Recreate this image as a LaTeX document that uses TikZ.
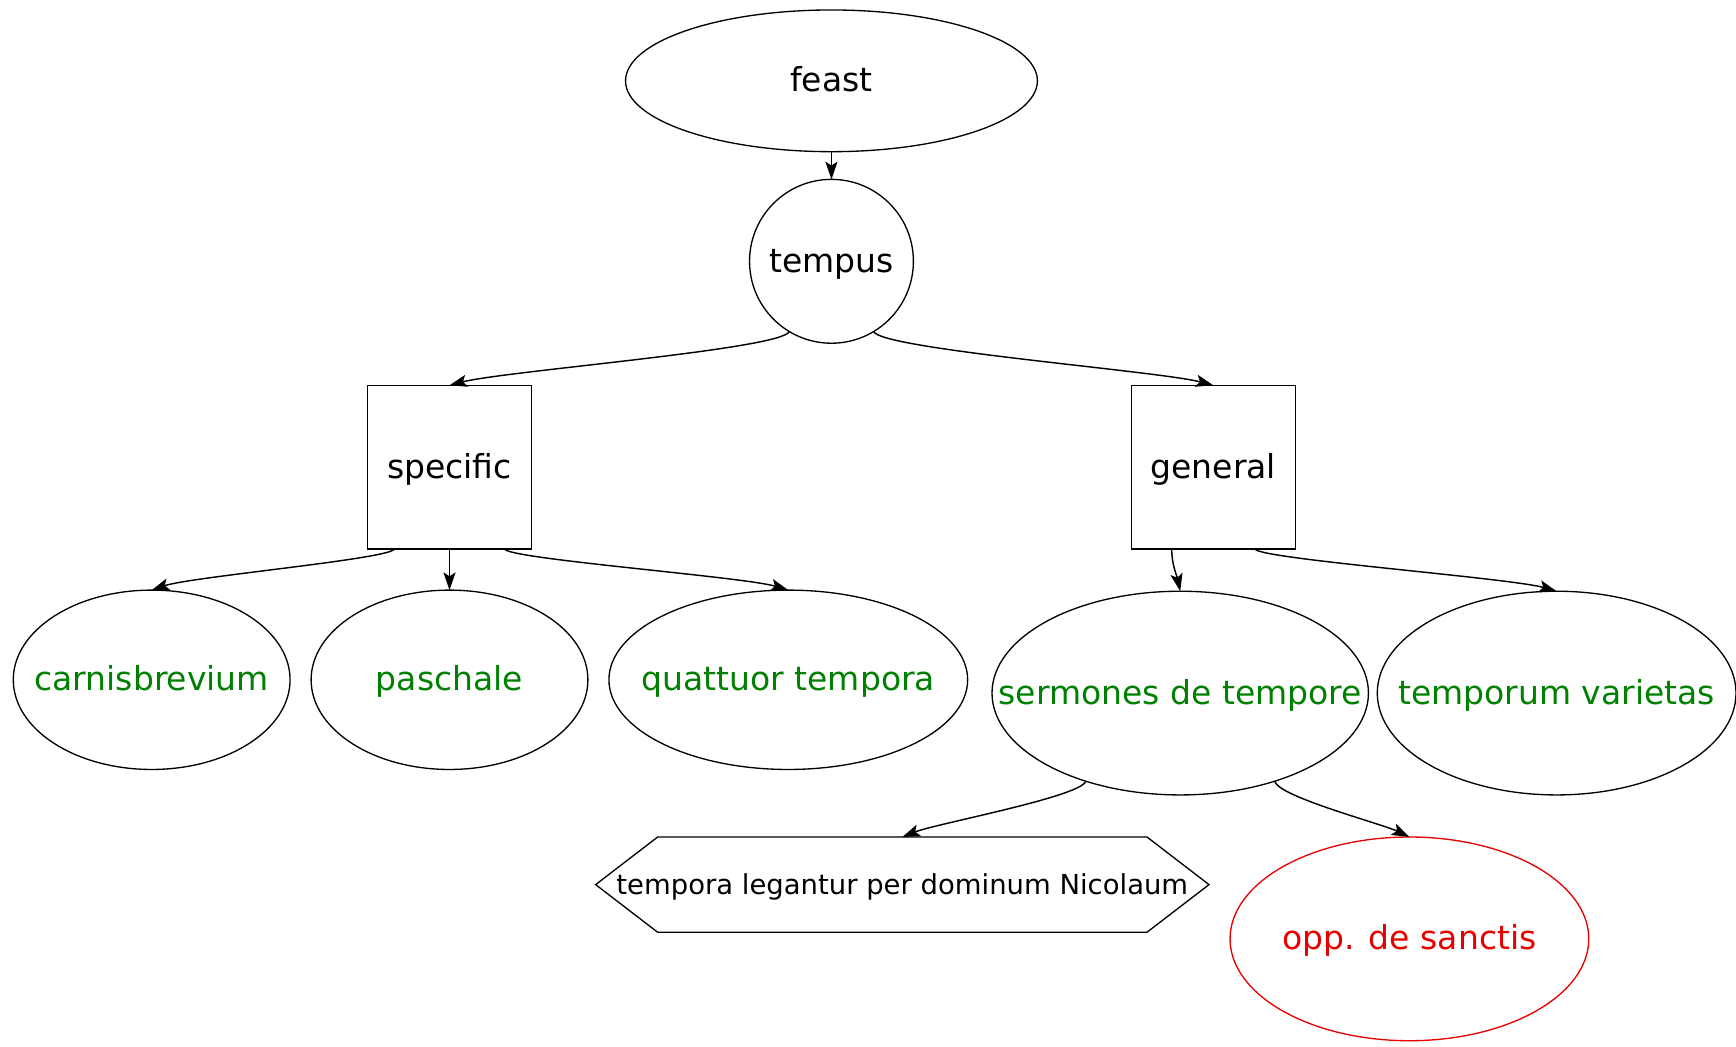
\documentclass[tikz,border=0pt]{standalone}
\usepackage{fontspec}
\setmainfont{DejaVu Sans}
\usetikzlibrary{shapes.geometric,arrows.meta,calc}
\definecolor{gvgreen}{RGB}{0,128,0}
\definecolor{gvred}{RGB}{230,0,0}
\newcommand{\zb}[1]{\makebox[0pt][c]{#1}}
\begin{document}
\begin{tikzpicture}[x=1pt,y=1pt,
  every node/.style={inner sep=0pt, outer sep=0pt, line width=1.2pt},
  big/.style={font=\fontsize{29.8}{36}\selectfont, text height=26pt, text depth=6pt},
  small/.style={font=\fontsize{24.8}{30}\selectfont, text height=22pt, text depth=5pt},
  ell/.style={draw, ellipse, big},
  sq/.style={draw, rectangle, big, minimum width=148pt, minimum height=148pt},
  leaf/.style={ell, text=gvgreen},
  arr/.style={line width=1.3pt, -{Stealth[length=16pt,width=11pt,inset=3.5pt]}}]
\useasboundingbox (0,0) rectangle (1568,-945);

\node[ell, minimum width=372pt, minimum height=128pt] (feast) at (751,-73) {\zb{feast}};
\node[draw, circle, big, minimum size=148pt] (tempus) at (751,-236) {\zb{tempus}};
\node[sq] (specific) at (406,-422) {\zb{specific}};
\node[sq] (general) at (1096,-422) {\zb{general}};
\node[leaf, minimum width=250pt, minimum height=162pt] (carn) at (137,-614) {\zb{carnisbrevium}};
\node[leaf, minimum width=250pt, minimum height=162pt] (pasch) at (406,-614) {\zb{paschale}};
\node[leaf, minimum width=324pt, minimum height=162pt] (quat) at (712,-614) {\zb{quattuor tempora}};
\node[leaf, minimum width=340pt, minimum height=184pt] (serm) at (1066,-626) {\zb{sermones de tempore}};
\node[leaf, minimum width=324pt, minimum height=184pt] (tvar) at (1406,-626) {\zb{temporum varietas}};
\node[small, rectangle, minimum width=442pt, minimum height=86pt] (hex) at (815,-799) {\zb{tempora legantur per dominum Nicolaum}};
\draw[line width=1.2pt] (hex.north west) -- (hex.north east) -- ($(hex.east)+(56,0)$) -- (hex.south east) -- (hex.south west) -- ($(hex.west)+(-56,0)$) -- cycle;
\node[ell, draw=gvred, text=gvred, minimum width=324pt, minimum height=184pt] (opp) at (1273,-848) {\zb{opp. de sanctis}};

\draw[arr] (feast.south) -- (tempus.north);
\draw[arr] (tempus.-121) .. controls +(-6,-16) and +(50,13) .. (specific.north);
\draw[arr] (tempus.-59) .. controls +(6,-16) and +(-50,13) .. (general.north);
\draw[arr] (specific.-124) .. controls +(-5,-9) and +(35,12) .. (carn.north);
\draw[arr] (specific.south) -- (pasch.north);
\draw[arr] (specific.-56) .. controls +(5,-9) and +(-40,12) .. (quat.north);
\draw[arr] (general.-117) .. controls +(0,-14) and +(-3,14) .. (serm.north);
\draw[arr] (general.-63) .. controls +(5,-9) and +(-42,12) .. (tvar.north);
\draw[arr] (serm.-137) .. controls +(-4,-14) and +(30,12) .. (hex.north);
\draw[arr] (serm.-43) .. controls +(3,-14) and +(-25,12) .. (opp.north);
\end{tikzpicture}
\end{document}
